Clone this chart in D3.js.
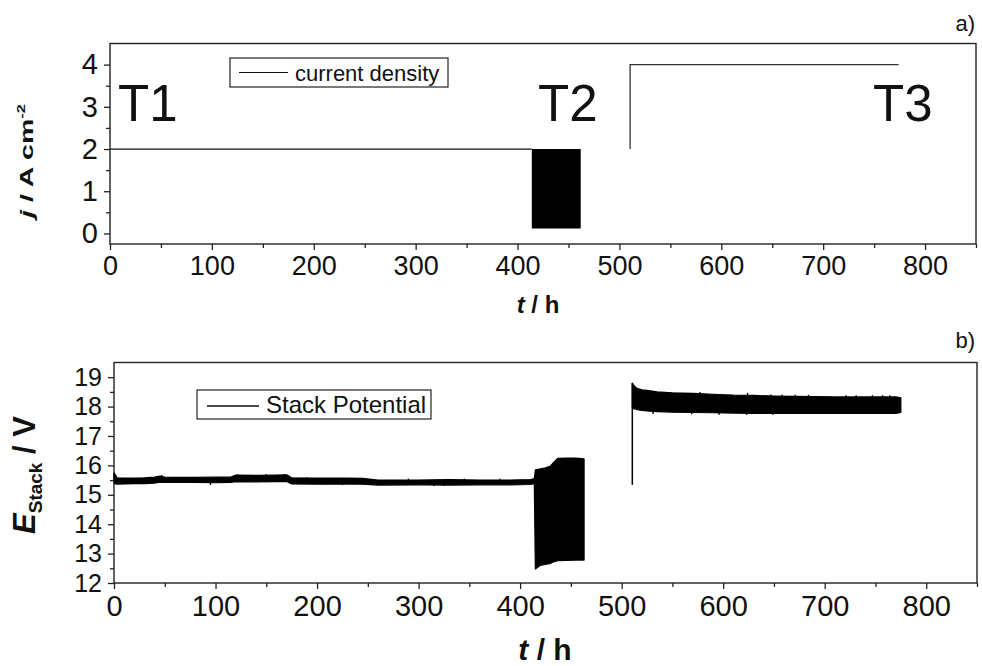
<!DOCTYPE html>
<html>
<head>
<meta charset="utf-8">
<script src="https://cdn.jsdelivr.net/npm/d3@7"></script>
<style>
  html, body { margin: 0; padding: 0; background: #fff; }
  svg { display: block; font-family: "Liberation Sans", Arial, sans-serif; }
  .axis path, .axis line { stroke: #222; stroke-width: 1.3; }
  .axis text { fill: #111; }
</style>
</head>
<body>
<svg id="chart" width="982" height="666"></svg>
<script>
// ---- data ----
const timeTicks = [0, 100, 200, 300, 400, 500, 600, 700, 800];
const jTicks = [0, 1, 2, 3, 4];
const eTicks = [12, 13, 14, 15, 16, 17, 18, 19];

// a) current density, A cm^-2
const jT1Time = [0, 414], jT1Val = [2, 2];
const jT2Time = [414, 462], jT2Lo = [0.12, 0.12], jT2Hi = [2, 2];
const jT3Time = [510.5, 510.5, 774], jT3Val = [2, 4, 4];

// b) stack potential, V (band = envelope of the dense trace)
const eT1Time = [0, 1, 3, 10, 20, 30, 40, 45, 50, 60, 80, 100, 115, 120, 140, 160, 170, 175, 200, 230, 245, 260, 300, 330, 360, 390, 410, 414];
const eT1Hi = [15.75, 15.7, 15.58, 15.57, 15.57, 15.58, 15.6, 15.64, 15.6, 15.59, 15.59, 15.6, 15.6, 15.67, 15.66, 15.67, 15.68, 15.58, 15.57, 15.57, 15.56, 15.5, 15.5, 15.52, 15.5, 15.5, 15.52, 15.55];
const eT1Lo = [15.4, 15.38, 15.36, 15.37, 15.38, 15.38, 15.4, 15.43, 15.42, 15.42, 15.42, 15.41, 15.42, 15.45, 15.44, 15.45, 15.45, 15.37, 15.36, 15.37, 15.36, 15.33, 15.34, 15.33, 15.34, 15.34, 15.35, 15.38];
const eT2Time = [414, 415, 420, 425, 430, 433, 437, 445, 455, 463];
const eT2Hi = [15.55, 15.85, 15.88, 15.92, 15.98, 16.1, 16.24, 16.25, 16.25, 16.22];
const eT2Lo = [15.35, 12.48, 12.6, 12.63, 12.67, 12.72, 12.76, 12.77, 12.78, 12.78];
const eT3JumpTime = [510.5, 510.5], eT3JumpVal = [15.34, 18.8];
const eT3Time = [510.5, 512, 515, 520, 525, 535, 550, 570, 590, 610, 630, 650, 670, 690, 710, 730, 750, 770, 775];
const eT3Hi = [18.8, 18.72, 18.62, 18.57, 18.55, 18.5, 18.47, 18.45, 18.42, 18.39, 18.38, 18.36, 18.35, 18.34, 18.33, 18.33, 18.33, 18.33, 18.3];
const eT3Lo = [17.95, 17.93, 17.9, 17.87, 17.85, 17.83, 17.81, 17.8, 17.79, 17.78, 17.77, 17.77, 17.77, 17.77, 17.77, 17.77, 17.77, 17.77, 17.8];
// isolated excursions on the traces
const eT3SpikeTime = [577, 624, 647, 658, 671, 684, 721, 731, 747, 757, 764, 531, 569, 596, 623, 649];
const eT3SpikeVal = [18.5, 18.47, 18.41, 18.4, 18.4, 18.4, 18.39, 18.39, 18.39, 18.39, 18.39, 17.75, 17.74, 17.72, 17.72, 17.72];
const eT1SpikeTime = [47, 95, 122, 150, 168, 190, 225, 290, 315, 325, 345, 380];
const eT1SpikeVal = [15.67, 15.33, 15.69, 15.7, 15.7, 15.6, 15.33, 15.55, 15.3, 15.3, 15.55, 15.55];

const svg = d3.select('#chart');
const zip = (t, v) => t.map((x, i) => [x, v[i]]);
const band = (t, lo, hi) => t.map((x, i) => ({ t: x, lo: lo[i], hi: hi[i] }));

function panel(o) {
  const x = d3.scaleLinear().domain([0, 850]).range([o.left, o.right]);
  const y = d3.scaleLinear().domain(o.yDomain).range([o.bottom, o.top]);
  const g = svg.append('g');

  // minor ticks first, majors with labels on top
  g.append('g').attr('class', 'axis').attr('transform', `translate(0,${o.bottom})`)
    .call(d3.axisBottom(x).tickValues(d3.range(50, 851, 100)).tickSize(4).tickFormat(''));
  g.append('g').attr('class', 'axis').attr('transform', `translate(${o.left},0)`)
    .call(d3.axisLeft(y).tickValues(o.yTicks.map(v => v + 0.5).filter(v => v < o.yDomain[1])).tickSize(4).tickFormat(''));
  const xa = g.append('g').attr('class', 'axis').attr('transform', `translate(0,${o.bottom})`)
    .call(d3.axisBottom(x).tickValues(timeTicks).tickSize(6).tickPadding(6).tickFormat(d3.format('d')));
  xa.selectAll('text').attr('font-size', o.xFont + 'px').attr('dy', o.xDy);
  const ya = g.append('g').attr('class', 'axis').attr('transform', `translate(${o.left},0)`)
    .call(d3.axisLeft(y).tickValues(o.yTicks).tickSize(6).tickPadding(o.yPad).tickFormat(d3.format('d')));
  ya.selectAll('text').attr('font-size', o.yFont + 'px');
  g.selectAll('.axis .domain').remove();

  g.append('rect').attr('x', o.left).attr('y', o.top).attr('width', o.right - o.left).attr('height', o.bottom - o.top)
    .attr('fill', 'none').attr('stroke', '#222').attr('stroke-width', 1.4);

  // x title
  const xt = g.append('text').attr('x', o.xTitleX).attr('y', o.xTitleY).attr('text-anchor', 'middle')
    .attr('font-size', o.xTitleFont + 'px').attr('font-weight', 'bold').attr('fill', '#111');
  xt.append('tspan').attr('font-style', 'italic').text('t');
  xt.append('tspan').text(' / h');

  // panel letter
  g.append('text').attr('x', 975).attr('y', o.letterY).attr('text-anchor', 'end')
    .attr('font-size', '22px').attr('fill', '#111').text(o.letter);

  return { g, x, y };
}

// ---------- a) ----------
const A = panel({ left: 110, right: 976, top: 43.5, bottom: 244, yDomain: [-0.25, 4.5], yTicks: jTicks,
  xFont: 27, xDy: '0.72em', yFont: 29, yPad: 6, xTitleX: 538, xTitleY: 313, xTitleFont: 24, letter: 'a)', letterY: 31 });
{
  const { g, x, y } = A;
  const line = d3.line().x(d => x(d[0])).y(d => y(d[1]));
  g.append('path').attr('d', line(zip(jT1Time, jT1Val))).attr('fill', 'none').attr('stroke', '#111').attr('stroke-width', 1.3);
  g.append('path').attr('d', d3.area().x(d => x(d.t)).y0(d => y(d.lo)).y1(d => y(d.hi))(band(jT2Time, jT2Lo, jT2Hi)))
    .attr('fill', '#000');
  g.append('path').attr('d', line(zip(jT3Time, jT3Val))).attr('fill', 'none').attr('stroke', '#333').attr('stroke-width', 1.3);

  [['T1', 118], ['T2', 538], ['T3', 873]].forEach(([t, px]) =>
    g.append('text').attr('x', px).attr('y', 120.5).attr('font-size', '51px').attr('fill', '#111').text(t));

  // legend
  g.append('rect').attr('x', 230).attr('y', 58).attr('width', 218).attr('height', 29).attr('fill', '#fff').attr('stroke', '#222').attr('stroke-width', 1.2);
  g.append('line').attr('x1', 239).attr('x2', 288).attr('y1', 72.5).attr('y2', 72.5).attr('stroke', '#111').attr('stroke-width', 1.2);
  g.append('text').attr('x', 295).attr('y', 80.5).attr('font-size', '22px').attr('fill', '#111').text('current density');

  // y title (stretched along its length like the original)
  const yt = g.append('text').attr('transform', 'translate(33,161) rotate(-90) scale(1.5,1)').attr('text-anchor', 'middle')
    .attr('font-size', '19px').attr('font-weight', 'bold').attr('fill', '#111');
  yt.append('tspan').attr('font-style', 'italic').text('j');
  yt.append('tspan').text(' / A cm');
  yt.append('tspan').attr('font-size', '11px').attr('dy', '-8').text('-2');
}

// ---------- b) ----------
const B = panel({ left: 114, right: 977, top: 362.5, bottom: 583, yDomain: [12, 19.5], yTicks: eTicks,
  xFont: 29, xDy: '0.72em', yFont: 25, yPad: 6, xTitleX: 545, xTitleY: 660, xTitleFont: 30, letter: 'b)', letterY: 348 });
{
  const { g, x, y } = B;
  const area = d3.area().x(d => x(d.t)).y0(d => y(d.lo)).y1(d => y(d.hi));
  [band(eT1Time, eT1Lo, eT1Hi), band(eT2Time, eT2Lo, eT2Hi), band(eT3Time, eT3Lo, eT3Hi)].forEach(b =>
    g.append('path').attr('d', area(b)).attr('fill', '#000').attr('stroke', '#000').attr('stroke-width', 1.2).attr('stroke-linejoin', 'round'));
  g.append('path').attr('d', d3.line().x(d => x(d[0])).y(d => y(d[1]))(zip(eT3JumpTime, eT3JumpVal)))
    .attr('stroke', '#000').attr('stroke-width', 1.5).attr('fill', 'none');
  // spikes: drawn from the middle of their band to the read excursion
  const spikes = (t, v, mid) => g.append('g').selectAll('line').data(zip(t, v)).join('line')
    .attr('x1', d => x(d[0])).attr('x2', d => x(d[0])).attr('y1', y(mid)).attr('y2', d => y(d[1]))
    .attr('stroke', '#000').attr('stroke-width', 1.4);
  spikes(eT3SpikeTime, eT3SpikeVal, 18.05);
  spikes(eT1SpikeTime, eT1SpikeVal, 15.47);

  // legend
  g.append('rect').attr('x', 197).attr('y', 390).attr('width', 234).attr('height', 29).attr('fill', '#fff').attr('stroke', '#222').attr('stroke-width', 1.2);
  g.append('line').attr('x1', 207).attr('x2', 259).attr('y1', 406).attr('y2', 406).attr('stroke', '#111').attr('stroke-width', 1.3);
  g.append('text').attr('x', 266).attr('y', 413).attr('font-size', '24px').attr('fill', '#111').text('Stack Potential');

  const yt = g.append('text').attr('transform', 'translate(35,475) rotate(-90)').attr('text-anchor', 'middle')
    .attr('font-weight', 'bold').attr('fill', '#111');
  yt.append('tspan').attr('font-style', 'italic').attr('font-size', '31px').text('E');
  yt.append('tspan').attr('font-size', '19px').attr('dy', '7').text('Stack');
  yt.append('tspan').attr('font-size', '31px').attr('dy', '-7').text('\u00a0/ V');
}
</script>
</body>
</html>
